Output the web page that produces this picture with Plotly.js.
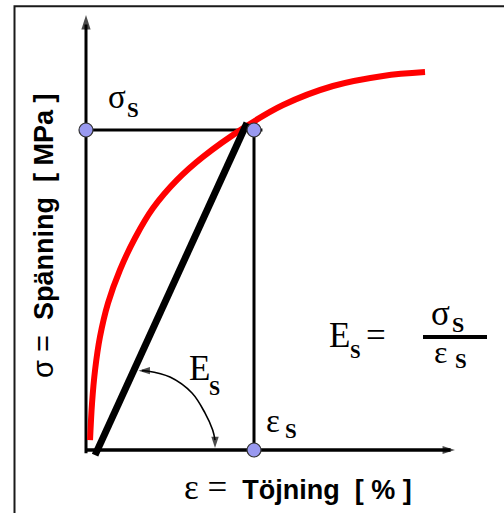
<!DOCTYPE html>
<html>
<head>
<meta charset="utf-8">
<script src="https://cdn.plot.ly/plotly-3.0.1.min.js"></script>
<style>html,body{margin:0;padding:0;background:#fff;}#chart{width:504px;height:513px;}</style>
</head>
<body>
<div id="chart"></div>
<script>
// ---- data (strain in units of eps_s, stress in units of sigma_s) ----
const curveStrain = [0.024, 0.036, 0.054, 0.083, 0.131, 0.202, 0.292, 0.399, 0.542, 0.696, 0.946, 1.173, 1.470, 1.768, 2.018];
const curveStress = [0.031, 0.147, 0.250, 0.353, 0.459, 0.5625, 0.6625, 0.756, 0.844, 0.916, 1.009, 1.078, 1.1375, 1.169, 1.181];
const secantStrain = [0.054, 0.958];
const secantStress = [-0.016, 1.022];
const guideStrain = [0, 1.05, 1, 1];
const guideStress = [1, 1, 1, 0];
const pointStrain = [0, 1, 1];
const pointStress = [1, 1, 0];
const arcStrain = [0.333, 0.363, 0.50, 0.631, 0.708, 0.754, 0.768];
const arcStress = [0.248, 0.247, 0.228, 0.178, 0.116, 0.0625, 0.031];
const yAxisStress = [-0.01, 1.33];
const xAxisStrain = [0, 2.17];
const headStrain = [0, 2.196, 0.3125, 0.768];
const headStress = [1.359, 0, 0.248, 0.006];
const headAngle = [0, 90, 270, 180];
const headSize = [15, 13, 12, 12];

const SERIF = 'Liberation Serif, Times New Roman, serif';
const SANS = 'Liberation Sans, Arial, sans-serif';
const W = 504, H = 513;
const PX = p => p / W;
const PY = p => 1 - p / H;

const traces = [
  {x: [0, 0], y: yAxisStress, mode: 'lines', line: {color: '#000', width: 3}, hoverinfo: 'skip'},
  {x: xAxisStrain, y: [0, 0], mode: 'lines', line: {color: '#000', width: 3.5}, hoverinfo: 'skip'},
  {x: guideStrain, y: guideStress, mode: 'lines', line: {color: '#000', width: 3}, hoverinfo: 'skip'},
  {x: curveStrain, y: curveStress, mode: 'lines', line: {color: '#ff0000', width: 6, shape: 'spline', smoothing: 1}, hoverinfo: 'skip'},
  {x: secantStrain, y: secantStress, mode: 'lines', line: {color: '#000', width: 7}, hoverinfo: 'skip'},
  {x: arcStrain, y: arcStress, mode: 'lines', line: {color: '#000', width: 1.6, shape: 'spline'}, hoverinfo: 'skip'},
  {x: headStrain, y: headStress, mode: 'markers', cliponaxis: false,
   marker: {symbol: 'arrow', angle: headAngle, size: headSize, color: '#000', line: {width: 0}}, hoverinfo: 'skip'},
  {x: pointStrain, y: pointStress, mode: 'markers', cliponaxis: false,
   marker: {size: 14, color: '#9999f0', line: {color: '#333', width: 1.2}}, hoverinfo: 'skip'}
];

// text placed by its left edge (px) and baseline (py)
function glyph(px, base, text, size, bold) {
  return {x: PX(px), y: PY(base - 0.3375 * size), xref: 'paper', yref: 'paper',
          text: bold ? '<b>' + text + '</b>' : text, showarrow: false,
          xanchor: 'left', yanchor: 'middle', font: {family: SERIF, size: size, color: '#000'}};
}
function title(px, py, text, extra) {
  return Object.assign({x: PX(px), y: PY(py), xref: 'paper', yref: 'paper', text: text, showarrow: false,
          xanchor: 'center', yanchor: 'middle', font: {family: SANS, size: 27, color: '#000'}}, extra || {});
}

const annotations = [
  glyph(106, 108, 'σ', 33), glyph(124.5, 117, 'S', 21, true),
  glyph(187, 380, 'E', 35), glyph(206.5, 395, 'S', 20, true),
  glyph(264, 432, 'ε', 33), glyph(282.5, 438, 'S', 21, true),
  glyph(327, 347, 'E', 35), glyph(347.5, 358, 'S', 19, true), glyph(363.8, 347.5, '=', 35),
  glyph(429, 325, 'σ', 35), glyph(449.5, 332, 'S', 22, true),
  glyph(432, 363, 'ε', 32), glyph(452.5, 368, 'S', 21, true),
  title(43, 236, '<span style="font-size:29px">σ =</span>  <b>Spänning\u00a0\u00a0[ MPa ]</b>', {textangle: -90}),
  title(298, 487, '<span style="font-family:Liberation Serif;font-size:35px">ε =</span>  <b>Töjning\u00a0\u00a0[ % ]</b>')
];

const shapes = [
  {type: 'rect', xref: 'paper', yref: 'paper', x0: PX(14.5), x1: 1.1, y0: -0.1, y1: PY(6.3),
   line: {color: '#1a1a1a', width: 2}, fillcolor: 'rgba(0,0,0,0)'},
  {type: 'line', xref: 'paper', yref: 'paper', x0: PX(423), x1: PX(487), y0: PY(337), y1: PY(337),
   line: {color: '#000', width: 4}}
];

const layout = {
  width: W, height: H,
  margin: {l: 0, r: 0, t: 0, b: 0},
  paper_bgcolor: '#fff', plot_bgcolor: '#fff',
  showlegend: false,
  xaxis: {visible: false, range: [-86 / 168, 418 / 168], fixedrange: true},
  yaxis: {visible: false, range: [-63 / 320, 450 / 320], fixedrange: true},
  annotations: annotations,
  shapes: shapes
};

Plotly.newPlot('chart', traces, layout, {staticPlot: true, displayModeBar: false});
</script>
</body>
</html>
